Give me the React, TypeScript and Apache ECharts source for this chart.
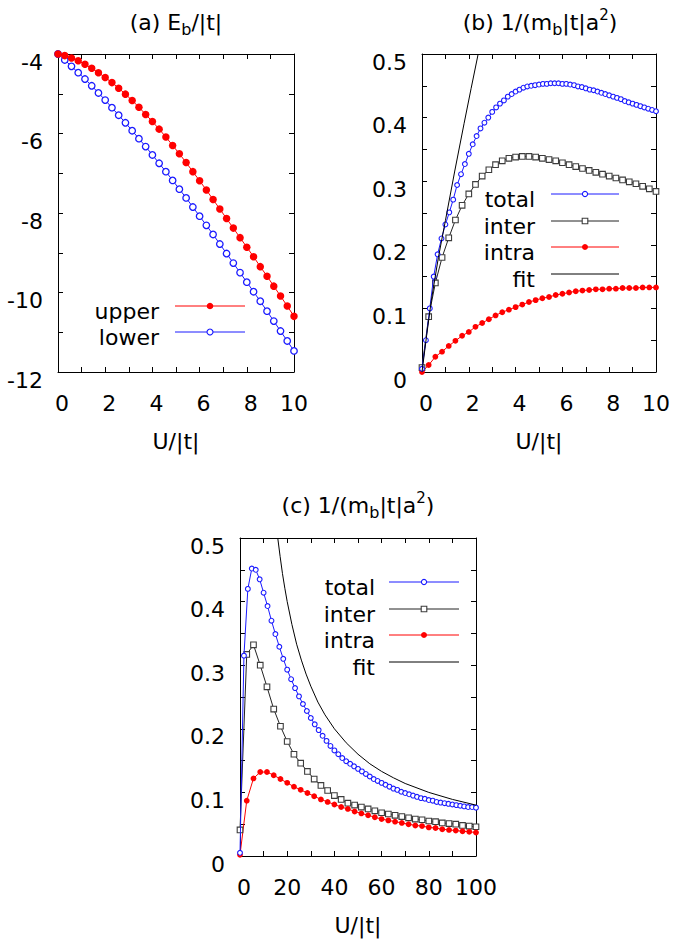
import React, { useEffect, useRef } from 'react';
import * as echarts from 'echarts';

// ---------- data ----------
// coarse U grids (36 points)
const gridU10 = [0, 0.286, 0.571, 0.857, 1.143, 1.429, 1.714, 2, 2.286, 2.571, 2.857, 3.143, 3.429, 3.714, 4, 4.286, 4.571, 4.857, 5.143, 5.429, 5.714, 6, 6.286, 6.571, 6.857, 7.143, 7.429, 7.714, 8, 8.286, 8.571, 8.857, 9.143, 9.429, 9.714, 10];
const gridU100 = [0, 2.86, 5.71, 8.57, 11.43, 14.29, 17.14, 20, 22.86, 25.71, 28.57, 31.43, 34.29, 37.14, 40, 42.86, 45.71, 48.57, 51.43, 54.29, 57.14, 60, 62.86, 65.71, 68.57, 71.43, 74.29, 77.14, 80, 82.86, 85.71, 88.57, 91.43, 94.29, 97.14, 100];
// fine U grids (61 points) for "total"
const fineU10 = [0, 0.167, 0.333, 0.5, 0.667, 0.833, 1, 1.167, 1.333, 1.5, 1.667, 1.833, 2, 2.167, 2.333, 2.5, 2.667, 2.833, 3, 3.167, 3.333, 3.5, 3.667, 3.833, 4, 4.167, 4.333, 4.5, 4.667, 4.833, 5, 5.167, 5.333, 5.5, 5.667, 5.833, 6, 6.167, 6.333, 6.5, 6.667, 6.833, 7, 7.167, 7.333, 7.5, 7.667, 7.833, 8, 8.167, 8.333, 8.5, 8.667, 8.833, 9, 9.167, 9.333, 9.5, 9.667, 9.833, 10];
const fineU100 = [0, 1.67, 3.33, 5, 6.67, 8.33, 10, 11.67, 13.33, 15, 16.67, 18.33, 20, 21.67, 23.33, 25, 26.67, 28.33, 30, 31.67, 33.33, 35, 36.67, 38.33, 40, 41.67, 43.33, 45, 46.67, 48.33, 50, 51.67, 53.33, 55, 56.67, 58.33, 60, 61.67, 63.33, 65, 66.67, 68.33, 70, 71.67, 73.33, 75, 76.67, 78.33, 80, 81.67, 83.33, 85, 86.67, 88.33, 90, 91.67, 93.33, 95, 96.67, 98.33, 100];

// (a) E_b/|t|
const aUpper = [-4.00, -4.04, -4.10, -4.17, -4.26, -4.36, -4.47, -4.59, -4.72, -4.86, -5.01, -5.17, -5.34, -5.52, -5.70, -5.89, -6.09, -6.30, -6.51, -6.73, -6.96, -7.19, -7.42, -7.66, -7.90, -8.14, -8.38, -8.62, -8.86, -9.10, -9.35, -9.59, -9.84, -10.09, -10.34, -10.60];
const aLower = [-4.00, -4.15, -4.31, -4.47, -4.63, -4.80, -4.98, -5.16, -5.35, -5.54, -5.73, -5.93, -6.13, -6.33, -6.54, -6.75, -6.96, -7.18, -7.40, -7.62, -7.85, -8.08, -8.31, -8.54, -8.78, -9.02, -9.26, -9.50, -9.74, -9.98, -10.22, -10.47, -10.72, -10.97, -11.22, -11.47];

// (b) 1/(m_b|t|a^2), U in [0,10]
const bTotal = [0.005, 0.05, 0.10, 0.15, 0.185, 0.21, 0.232, 0.251, 0.271, 0.294, 0.311, 0.327, 0.343, 0.358, 0.371, 0.383, 0.392, 0.400, 0.409, 0.416, 0.422, 0.427, 0.433, 0.437, 0.441, 0.444, 0.447, 0.449, 0.450, 0.451, 0.452, 0.453, 0.453, 0.454, 0.454, 0.454, 0.453, 0.453, 0.452, 0.451, 0.449, 0.448, 0.446, 0.444, 0.443, 0.441, 0.439, 0.437, 0.435, 0.433, 0.431, 0.429, 0.426, 0.424, 0.422, 0.420, 0.418, 0.416, 0.414, 0.412, 0.410];
const bInter = [0.007, 0.087, 0.140, 0.180, 0.211, 0.239, 0.262, 0.280, 0.295, 0.308, 0.318, 0.326, 0.332, 0.336, 0.338, 0.339, 0.339, 0.338, 0.336, 0.334, 0.332, 0.329, 0.326, 0.323, 0.320, 0.317, 0.314, 0.311, 0.308, 0.305, 0.302, 0.299, 0.296, 0.292, 0.288, 0.284];
const bIntra = [0, 0.011, 0.024, 0.032, 0.041, 0.049, 0.057, 0.063, 0.071, 0.077, 0.083, 0.089, 0.094, 0.098, 0.102, 0.106, 0.110, 0.113, 0.116, 0.118, 0.121, 0.123, 0.125, 0.127, 0.128, 0.129, 0.130, 0.130, 0.131, 0.131, 0.132, 0.132, 0.132, 0.133, 0.133, 0.133];
const bFitU = [0, 0.2, 0.4, 0.7, 1.0, 1.4, 1.8, 2.1, 2.4];
const bFitV = [0, 0.058, 0.113, 0.18, 0.238, 0.316, 0.391, 0.446, 0.5];

// (c) 1/(m_b|t|a^2), U in [0,100]
const cTotal = [0.005, 0.315, 0.420, 0.452, 0.450, 0.435, 0.414, 0.393, 0.370, 0.349, 0.329, 0.310, 0.293, 0.278, 0.264, 0.251, 0.239, 0.228, 0.217, 0.207, 0.198, 0.189, 0.181, 0.173, 0.166, 0.160, 0.154, 0.149, 0.145, 0.141, 0.137, 0.133, 0.129, 0.125, 0.121, 0.118, 0.115, 0.112, 0.109, 0.106, 0.104, 0.101, 0.099, 0.097, 0.095, 0.093, 0.091, 0.090, 0.088, 0.087, 0.085, 0.084, 0.083, 0.082, 0.081, 0.080, 0.079, 0.078, 0.077, 0.077, 0.076];
const cInter = [0.041, 0.317, 0.332, 0.300, 0.266, 0.231, 0.204, 0.180, 0.160, 0.146, 0.133, 0.121, 0.111, 0.103, 0.095, 0.089, 0.083, 0.080, 0.077, 0.074, 0.071, 0.068, 0.066, 0.064, 0.062, 0.060, 0.058, 0.057, 0.055, 0.054, 0.052, 0.051, 0.050, 0.048, 0.047, 0.046];
const cIntra = [0.002, 0.087, 0.122, 0.132, 0.132, 0.127, 0.121, 0.115, 0.109, 0.104, 0.099, 0.094, 0.089, 0.085, 0.081, 0.077, 0.074, 0.070, 0.067, 0.064, 0.061, 0.058, 0.056, 0.054, 0.052, 0.050, 0.048, 0.047, 0.045, 0.044, 0.042, 0.041, 0.040, 0.039, 0.038, 0.037];
const cFitU = [16, 17, 18, 19, 20, 22, 24, 26, 28, 30, 33, 36, 40, 45, 50, 55, 60, 65, 70, 80, 90, 100];
const cFitV = [0.5, 0.471, 0.444, 0.421, 0.4, 0.364, 0.333, 0.308, 0.286, 0.267, 0.242, 0.222, 0.2, 0.178, 0.16, 0.145, 0.133, 0.123, 0.114, 0.1, 0.089, 0.08];

const legendA = ['upper', 'lower'];
const legendBC = ['total', 'inter', 'intra', 'fit'];
const xName = 'U/|t|';

// ---------- styling ----------
const FONT = 'DejaVu Sans';
const FS = 22;
const RED = '#ff0000';
const BLUE = '#1a1aff';
const GRAY = '#3c3c3c';
const BLACK = '#000000';

const pairs = (xs: number[], ys: number[]) => xs.map((x, i) => [x, ys[i]]);

const grids = [
  { left: 58, top: 54, width: 236, height: 318 },
  { left: 422, top: 54, width: 236, height: 318 },
  { left: 240, top: 538, width: 236, height: 318 },
];

function xAxesFor(g: number, max: number, interval: number, labelEvery: number) {
  const base = {
    type: 'value',
    gridIndex: g,
    min: 0,
    max,
    interval,
    splitLine: { show: false },
    axisLine: { show: true, onZero: false, lineStyle: { color: BLACK, width: 1 } },
    axisTick: { show: true, inside: true, length: 5, lineStyle: { color: BLACK, width: 1 } },
  };
  const k = Math.round(labelEvery / interval);
  return [
    {
      ...base,
      position: 'bottom',
      name: xName,
      nameLocation: 'middle',
      nameGap: 58,
      nameTextStyle: { fontFamily: FONT, fontSize: FS, color: BLACK },
      axisLabel: {
        show: true,
        color: BLACK,
        fontFamily: FONT,
        fontSize: FS,
        margin: 20,
        rich: {
          one: { fontFamily: FONT, fontSize: FS, color: BLACK, padding: [0, 0, 0, 8] },
        },
        formatter: (v: number) => {
          if (Math.round(v / interval) % k !== 0) return '';
          const s = String(Math.round(v));
          return s.length === 1 ? '{one|' + s + '}' : s;
        },
      },
    },
    { ...base, position: 'top', axisLabel: { show: false } },
  ];
}

function yAxesFor(g: number, min: number, max: number, interval: number, labelEvery: number, fmt: (v: number) => string) {
  const base = {
    type: 'value',
    gridIndex: g,
    min,
    max,
    interval,
    splitLine: { show: false },
    axisLine: { show: true, onZero: false, lineStyle: { color: BLACK, width: 1 } },
    axisTick: { show: true, inside: true, length: 5, lineStyle: { color: BLACK, width: 1 } },
  };
  const k = Math.round(labelEvery / interval);
  return [
    {
      ...base,
      position: 'left',
      axisLabel: {
        show: true,
        color: BLACK,
        fontFamily: FONT,
        fontSize: FS,
        margin: 15,
        verticalAlign: 'top',
        lineHeight: 16,
        formatter: (v: number) => (Math.abs(Math.round(v / interval)) % k === 0 ? fmt(v) : ''),
      },
    },
    { ...base, position: 'right', axisLabel: { show: false } },
  ];
}

const fmtInt = (v: number) => String(Math.round(v));
const fmtTenth = (v: number) => String(Math.round(v * 10) / 10);

const styleTotal = {
  symbol: 'circle',
  symbolSize: 4.8,
  itemStyle: { color: '#ffffff', borderColor: BLUE, borderWidth: 1.1 },
  lineStyle: { color: BLUE, width: 1 },
};
const styleInter = {
  symbol: 'rect',
  symbolSize: 5.6,
  itemStyle: { color: '#ffffff', borderColor: GRAY, borderWidth: 1.1 },
  lineStyle: { color: '#222222', width: 1 },
};
const styleIntra = {
  symbol: 'circle',
  symbolSize: 5.8,
  itemStyle: { color: RED, borderWidth: 0 },
  lineStyle: { color: RED, width: 1 },
};
const styleFit = {
  symbol: 'none',
  lineStyle: { color: BLACK, width: 1 },
};

function series(name: string, axis: number, data: number[][], st: any, z: number) {
  return {
    type: 'line',
    name,
    xAxisIndex: axis * 2,
    yAxisIndex: axis * 2,
    data,
    showSymbol: st.symbol !== 'none',
    showAllSymbol: true,
    clip: true,
    z,
    emphasis: { disabled: true },
    ...st,
  };
}

// legend graphics
function legendRows(names: string[], textRight: number, lineX1: number, lineX2: number, ys: number[], marks: any[]) {
  const els: any[] = [];
  names.forEach((n, i) => {
    const y = ys[i];
    const m = marks[i];
    els.push({
      type: 'text',
      x: textRight,
      y: y + 5,
      style: { text: n, fontFamily: FONT, fontSize: FS, fill: BLACK, align: 'right', verticalAlign: 'middle' },
    });
    els.push({
      type: 'line',
      shape: { x1: lineX1, y1: y, x2: lineX2, y2: y },
      style: { stroke: m.line, lineWidth: 1 },
    });
    const xm = (lineX1 + lineX2) / 2;
    if (m.kind === 'dot') {
      els.push({ type: 'circle', shape: { cx: xm, cy: y, r: m.r }, style: { fill: m.color, stroke: 'none' } });
    } else if (m.kind === 'ring') {
      els.push({ type: 'circle', shape: { cx: xm, cy: y, r: m.r }, style: { fill: '#fff', stroke: m.color, lineWidth: 1.1 } });
    } else if (m.kind === 'square') {
      els.push({ type: 'rect', shape: { x: xm - m.r, y: y - m.r, width: 2 * m.r, height: 2 * m.r }, style: { fill: '#fff', stroke: m.color, lineWidth: 1.1 } });
    }
  });
  return els;
}

const marksBC = [
  { kind: 'ring', color: BLUE, line: BLUE, r: 2.6 },
  { kind: 'square', color: GRAY, line: '#222222', r: 2.8 },
  { kind: 'dot', color: RED, line: RED, r: 3 },
  { kind: 'none', color: BLACK, line: BLACK, r: 0 },
];

function title(x: number, y: number, parts: string) {
  return {
    type: 'text',
    x,
    y,
    style: {
      text: parts,
      align: 'center',
      verticalAlign: 'middle',
      rich: {
        n: { fontFamily: FONT, fontSize: FS, fill: BLACK, lineHeight: 30, verticalAlign: 'middle' },
        sub: { fontFamily: FONT, fontSize: 16, fill: BLACK, lineHeight: 14, verticalAlign: 'bottom' },
        sup: { fontFamily: FONT, fontSize: 15, fill: BLACK, lineHeight: 14, verticalAlign: 'top' },
      },
    },
  };
}

const option: any = {
  animation: false,
  backgroundColor: '#ffffff',
  grid: grids,
  xAxis: [...xAxesFor(0, 10, 1, 2), ...xAxesFor(1, 10, 1, 2), ...xAxesFor(2, 100, 10, 20)],
  yAxis: [
    ...yAxesFor(0, -12, -4, 1, 2, fmtInt),
    ...yAxesFor(1, 0, 0.5, 0.05, 0.1, fmtTenth),
    ...yAxesFor(2, 0, 0.5, 0.05, 0.1, fmtTenth),
  ],
  series: [
    series('lower', 0, pairs(gridU10, aLower), {
      symbol: 'circle',
      symbolSize: 6.5,
      itemStyle: { color: '#ffffff', borderColor: BLUE, borderWidth: 1.3 },
      lineStyle: { color: BLUE, width: 1 },
    }, 2),
    series('upper', 0, pairs(gridU10, aUpper), {
      symbol: 'circle',
      symbolSize: 7.5,
      itemStyle: { color: RED, borderWidth: 0 },
      lineStyle: { color: RED, width: 1 },
    }, 3),
    series('total', 1, pairs(fineU10, bTotal), styleTotal, 3),
    series('inter', 1, pairs(gridU10, bInter), styleInter, 2),
    series('intra', 1, pairs(gridU10, bIntra), styleIntra, 2),
    series('fit', 1, pairs(bFitU, bFitV), styleFit, 4),
    series('total', 2, pairs(fineU100, cTotal), styleTotal, 3),
    series('inter', 2, pairs(gridU100, cInter), styleInter, 2),
    series('intra', 2, pairs(gridU100, cIntra), styleIntra, 2),
    series('fit', 2, pairs(cFitU, cFitV), styleFit, 4),
  ],
  graphic: [
    title(176, 22, '{n|(a) E}{sub|b}{n|/|t|}'),
    title(540, 22, '{n|(b) 1/(m}{sub|b}{n||t|a}{sup|2}{n|)}'),
    title(358, 505, '{n|(c) 1/(m}{sub|b}{n||t|a}{sup|2}{n|)}'),
    ...legendRows(legendA, 159, 175, 245, [306, 332], [
      { kind: 'dot', color: RED, line: RED, r: 3.3 },
      { kind: 'ring', color: BLUE, line: BLUE, r: 3 },
    ]),
    ...legendRows(legendBC, 535, 551, 619, [194, 221, 247, 274], marksBC),
    ...legendRows(legendBC, 375, 389, 459, [582, 609, 635, 662], marksBC),
  ],
};

export default function App() {
  const ref = useRef<HTMLDivElement>(null);
  useEffect(() => {
    if (!ref.current) return;
    const chart = echarts.init(ref.current, null, { renderer: 'svg' });
    chart.setOption(option);
    return () => chart.dispose();
  }, []);
  return (
    <div
      ref={ref}
      style={{ position: 'fixed', left: 0, top: 0, width: 673, height: 940, background: '#ffffff' }}
    />
  );
}
